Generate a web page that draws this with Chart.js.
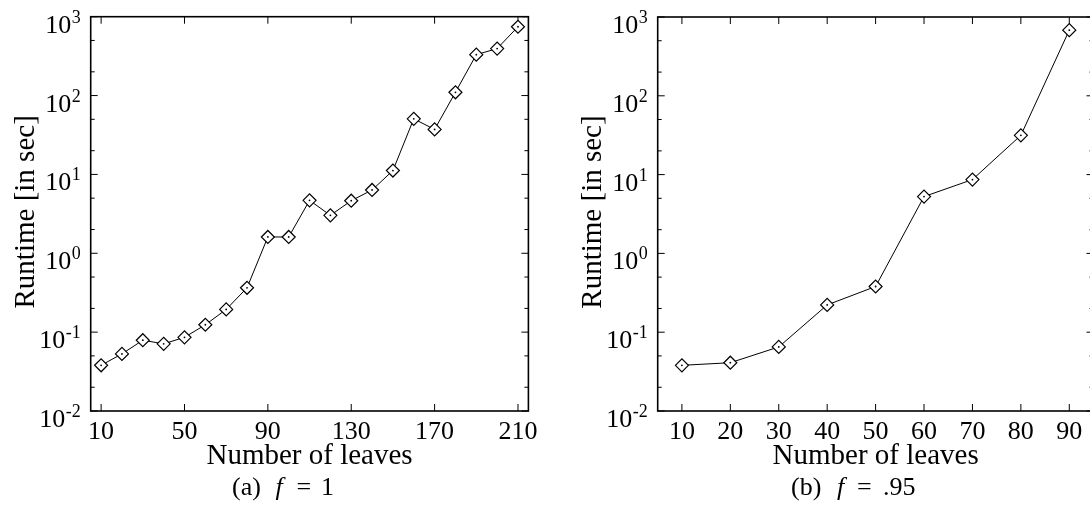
<!DOCTYPE html>
<html><head><meta charset="utf-8">
<script src="https://cdn.jsdelivr.net/npm/chart.js@4.4.1/dist/chart.umd.min.js"></script>
<style>
html,body{margin:0;padding:0;background:#fff;overflow:hidden;width:1090px;height:508px;}
#wrap{position:relative;width:1090px;height:508px;overflow:hidden;background:#fff;}
canvas{position:absolute;top:0;}
</style></head><body>
<div id="wrap">
<canvas id="ca" width="545" height="508" style="left:0px"></canvas>
<canvas id="cb" width="560" height="508" style="left:545px"></canvas>
</div>
<script>
// ---- data ----
const leavesA = [10,20,30,40,50,60,70,80,90,100,110,120,130,140,150,160,170,180,190,200,210];
const runtimeA = [0.038,0.053,0.079,0.071,0.086,0.124,0.194,0.365,1.61,1.61,4.69,3.03,4.64,6.35,11.2,50.7,37.2,110,330,394,746];
const leavesB = [10,20,30,40,50,60,70,80,90];
const runtimeB = [0.038,0.041,0.065,0.222,0.38,5.26,8.65,31.5,681];
const xTicksA = [10,50,90,130,170,210];
const xTicksB = [10,20,30,40,50,60,70,80,90];
const yMajorTicks = [0.01,0.1,1,10,100,1000];
const yExponents = ['-2','-1','0','1','2','3'];
const yMinorTicks = [0.02,0.05,0.2,0.5,2,5,20,50,200,500];
const xTitle = 'Number of leaves';
const yTitle = 'Runtime [in sec]';
const captionA = ['(a)','f','=','1'];
const captionB = ['(b)','f','=','.95'];

const SERIF = '"Liberation Serif", "Times New Roman", serif';

const deco = {
  id: 'deco',
  beforeDatasetsDraw(chart) {
    const o = chart.options.plugins.deco;
    const {ctx, chartArea: a, scales: {x, y}} = chart;
    ctx.save();
    ctx.strokeStyle = '#000';
    ctx.lineWidth = 1;
    const seg = (x1, y1, x2, y2) => { ctx.beginPath(); ctx.moveTo(x1, y1); ctx.lineTo(x2, y2); ctx.stroke(); };
    for (const v of o.xTicks) {
      const px = x.getPixelForValue(v);
      seg(px, a.bottom, px, a.bottom - 7);
      seg(px, a.top, px, a.top + 7);
    }
    for (const v of yMajorTicks) {
      const py = y.getPixelForValue(v);
      seg(a.left, py, a.left + 7, py);
      seg(a.right, py, a.right - 7, py);
    }
    for (const v of yMinorTicks) {
      const py = y.getPixelForValue(v);
      seg(a.left, py, a.left + 4, py);
      seg(a.right, py, a.right - 4, py);
    }
    ctx.lineWidth = 1.6;
    ctx.strokeRect(a.left, a.top, a.right - a.left, a.bottom - a.top);
    ctx.restore();
  },
  afterDraw(chart) {
    const o = chart.options.plugins.deco;
    const {ctx, chartArea: a, scales: {x, y}} = chart;
    ctx.save();
    ctx.fillStyle = '#000';
    // x tick labels
    ctx.font = '26px ' + SERIF;
    ctx.textAlign = 'center';
    ctx.textBaseline = 'alphabetic';
    for (const v of o.xTicks) {
      ctx.fillText(String(v), x.getPixelForValue(v), a.bottom + 28);
    }
    // y tick labels 10^k
    yMajorTicks.forEach((v, i) => {
      const py = y.getPixelForValue(v);
      const right = a.left - 10;
      ctx.textAlign = 'right';
      ctx.font = '18px ' + SERIF;
      const sw = ctx.measureText(yExponents[i]).width;
      ctx.fillText(yExponents[i], right, py + 6);
      ctx.font = '26px ' + SERIF;
      ctx.fillText('10', right - sw - 0.5, py + 16);
    });
    // axis titles
    ctx.font = '29px ' + SERIF;
    ctx.textAlign = 'center';
    ctx.fillText(xTitle, (a.left + a.right) / 2, a.bottom + 53);
    ctx.save();
    ctx.translate(a.left - 57, (a.top + a.bottom) / 2 - 2);
    ctx.rotate(-Math.PI / 2);
    ctx.fillText(yTitle, 0, 0);
    ctx.restore();
    // caption
    ctx.textAlign = 'left';
    o.caption.forEach((t, i) => {
      ctx.font = (i === 1 ? 'italic ' : '') + '26px ' + SERIF;
      ctx.fillText(t, o.capX[i], 495);
    });
    ctx.restore();
  }
};

function makeChart(id, xs, ys, xmin, xmax, pad, xTicks, caption, capX) {
  const pts = xs.map((v, i) => ({x: v, y: ys[i]}));
  return new Chart(document.getElementById(id), {
    type: 'scatter',
    data: {
      datasets: [
        {
          data: pts, showLine: true, borderColor: '#000', borderWidth: 1,
          pointStyle: 'rectRot', pointRadius: 6.5, pointBorderWidth: 1.2,
          pointBorderColor: '#000', pointBackgroundColor: '#fff', clip: false, order: 2
        },
        {
          data: pts, showLine: false, pointStyle: 'circle', pointRadius: 0.9,
          pointBorderWidth: 0, pointBackgroundColor: '#000', clip: false, order: 1
        }
      ]
    },
    options: {
      responsive: false, animation: false, events: [],
      layout: {padding: pad},
      scales: {
        x: {type: 'linear', min: xmin, max: xmax, display: false},
        y: {type: 'logarithmic', min: 0.01, max: 1000, display: false}
      },
      plugins: {
        legend: {display: false}, tooltip: {enabled: false},
        deco: {xTicks, caption, capX}
      }
    },
    plugins: [deco]
  });
}

makeChart('ca', leavesA, runtimeA, 5, 215,
  {left: 90.7, right: 545 - 528.4, top: 16.7, bottom: 508 - 411},
  xTicksA, captionA, [232, 275.5, 296.5, 321]);
makeChart('cb', leavesB, runtimeB, 5, 95,
  {left: 112.7, right: 560 - 548.5, top: 17, bottom: 508 - 411},
  xTicksB, captionB, [246, 292, 312, 338]);
</script>
</body></html>
